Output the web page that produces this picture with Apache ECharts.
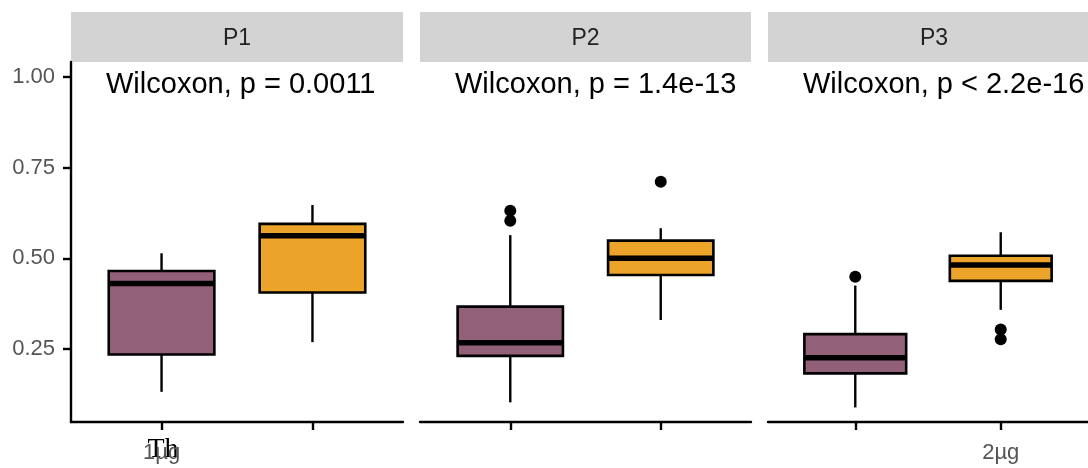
<!DOCTYPE html>
<html><head><meta charset="utf-8">
<script src="https://cdn.jsdelivr.net/npm/echarts@6/dist/echarts.min.js"></script>
<style>html,body{margin:0;padding:0;background:#fff}#c{width:1088px;height:468px}</style>
</head><body><div id="c"></div>
<script>
const panels = ['P1', 'P2', 'P3'];
const doses = ['1µg', '2µg'];
const pLabels = ['Wilcoxon, p = 0.0011', 'Wilcoxon, p = 1.4e-13', 'Wilcoxon, p < 2.2e-16'];
const yTicks = [0.25, 0.50, 0.75, 1.00];
// [min, q1, median, q3, max] per panel
const box1ug = [
  [0.132, 0.235, 0.431, 0.465, 0.514],
  [0.103, 0.231, 0.267, 0.367, 0.564],
  [0.089, 0.183, 0.226, 0.291, 0.425]
];
const box2ug = [
  [0.269, 0.406, 0.562, 0.595, 0.647],
  [0.330, 0.454, 0.500, 0.549, 0.583],
  [0.358, 0.438, 0.482, 0.507, 0.572]
];
const out1ug = [[], [0.631, 0.604], [0.449]];
const out2ug = [[], [0.711], [0.304, 0.277]];
const shownXLabels = [[1], [], [2]];
const strayLabel = 'Th';

const fillColors = ['#936079', '#EBA329'];
const FONT = 'Liberation Sans';
const gridLefts = [71, 420, 768];
const gridWidths = [332, 331, 332];
const gridTop = 62, gridHeight = 360;

const chart = echarts.init(document.getElementById('c'), null, {renderer: 'canvas'});

const grids = [], xAxes = [], yAxes = [], series = [], graphics = [];
panels.forEach((name, i) => {
  grids.push({left: gridLefts[i], top: gridTop, width: gridWidths[i], height: gridHeight, containLabel: false});
  xAxes.push({
    type: 'value', gridIndex: i, min: 0.4, max: 2.6,
    splitLine: {show: false},
    axisLine: {show: true, onZero: false, lineStyle: {color: '#000', width: 2.4}},
    axisTick: {show: true, customValues: [1, 2], length: 8, lineStyle: {color: '#000', width: 2.4}},
    axisLabel: {show: shownXLabels[i].length > 0, customValues: shownXLabels[i].length ? shownXLabels[i] : [1],
      formatter: v => doses[Math.round(v) - 1], color: '#555', fontSize: 22, fontFamily: FONT, margin: 20}
  });
  yAxes.push({
    type: 'value', gridIndex: i, min: 0.0488, max: 1.0414,
    show: i === 0,
    splitLine: {show: false},
    axisLine: {show: true, lineStyle: {color: '#000', width: 2.4}},
    axisTick: {show: true, customValues: yTicks, length: 8, lineStyle: {color: '#000', width: 2.4}},
    axisLabel: {customValues: yTicks, formatter: v => v.toFixed(2), color: '#555', fontSize: 22, fontFamily: FONT, margin: 16}
  });
  series.push({
    type: 'custom', xAxisIndex: i, yAxisIndex: i,
    data: [[1].concat(box1ug[i]), [2].concat(box2ug[i])],
    renderItem: (params, api) => {
      const x = api.value(0);
      const mn = api.value(1), q1 = api.value(2), md = api.value(3), q3 = api.value(4), mx = api.value(5);
      const half = 0.35;
      const tl = api.coord([x - half, q3]), br = api.coord([x + half, q1]);
      const pMin = api.coord([x, mn]), pMax = api.coord([x, mx]);
      const pQ1 = api.coord([x, q1]), pQ3 = api.coord([x, q3]);
      const mL = api.coord([x - half, md]), mR = api.coord([x + half, md]);
      return {type: 'group', children: [
        {type: 'line', shape: {x1: pMax[0], y1: pMax[1], x2: pQ3[0], y2: pQ3[1]}, style: {stroke: '#000', lineWidth: 2.4}},
        {type: 'line', shape: {x1: pQ1[0], y1: pQ1[1], x2: pMin[0], y2: pMin[1]}, style: {stroke: '#000', lineWidth: 2.4}},
        {type: 'rect', shape: {x: tl[0], y: tl[1], width: br[0] - tl[0], height: br[1] - tl[1]},
          style: {fill: fillColors[params.dataIndex], stroke: '#000', lineWidth: 2.6}},
        {type: 'line', shape: {x1: mL[0], y1: mL[1], x2: mR[0], y2: mR[1]}, style: {stroke: '#000', lineWidth: 5.5}}
      ]};
    }
  });
  const pts = out1ug[i].map(v => [1, v]).concat(out2ug[i].map(v => [2, v]));
  series.push({
    type: 'scatter', xAxisIndex: i, yAxisIndex: i, data: pts,
    symbol: 'circle', symbolSize: 12, itemStyle: {color: '#000', opacity: 1}, silent: true
  });
  graphics.push({type: 'rect', left: gridLefts[i], top: 12, shape: {width: gridWidths[i], height: 50}, style: {fill: '#D3D3D3'}});
  graphics.push({type: 'text', x: gridLefts[i] + gridWidths[i] / 2, y: 39,
    style: {text: name, fill: '#222', font: '23px ' + FONT, textAlign: 'center', textVerticalAlign: 'middle'}});
  graphics.push({type: 'text', x: gridLefts[i] + 35, y: 85,
    style: {text: pLabels[i], fill: '#000', font: '29px ' + FONT, textAlign: 'left', textVerticalAlign: 'middle'}});
});
graphics.push({type: 'text', x: 163, y: 450,
  style: {text: strayLabel, fill: '#000', font: '28px "Liberation Serif"', textAlign: 'center', textVerticalAlign: 'middle'}});

chart.setOption({
  animation: false,
  backgroundColor: '#fff',
  grid: grids, xAxis: xAxes, yAxis: yAxes, series: series, graphic: graphics
});
</script></body></html>
